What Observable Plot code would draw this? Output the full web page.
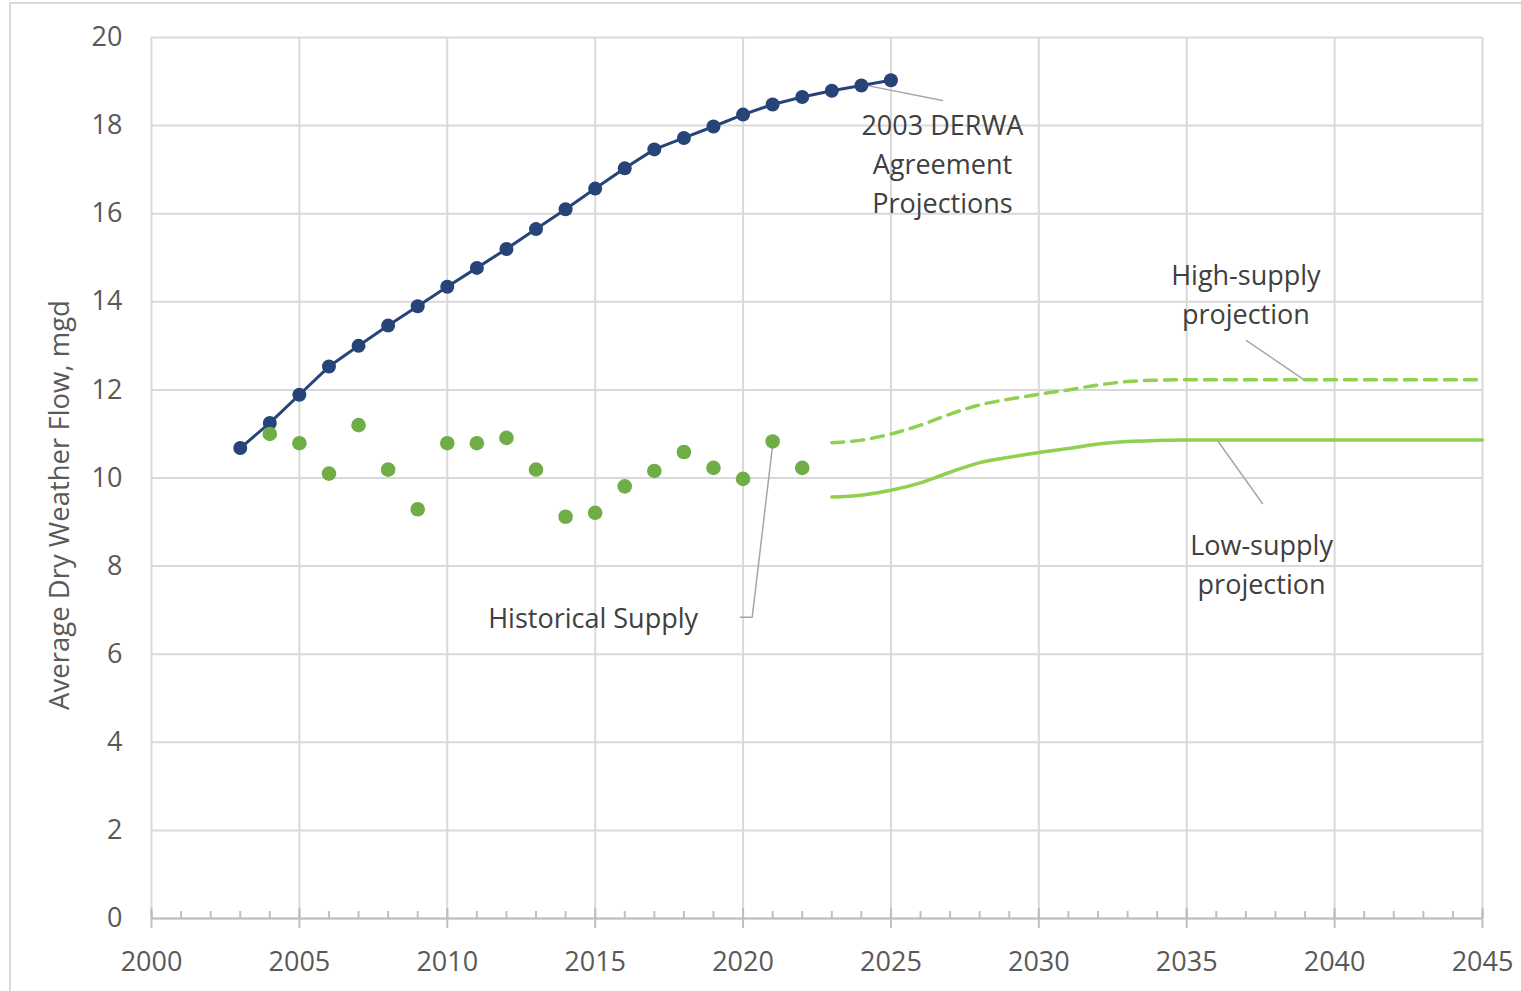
<!DOCTYPE html>
<html>
<head>
<meta charset="utf-8">
<script src="https://cdn.jsdelivr.net/npm/d3@7"></script>
<script src="https://cdn.jsdelivr.net/npm/@observablehq/plot@0.6"></script>
<style>
  html, body { margin: 0; padding: 0; background: #fff; overflow: hidden; }
  #frame { position: absolute; left: 9px; top: 2px; width: 1600px; height: 1100px; border: 2px solid #d9d9d9; box-sizing: border-box; }
  #chart { position: absolute; left: 0; top: 0; }
</style>
</head>
<body>
<div id="frame"></div>
<div id="chart"></div>
<script>
// 2003 DERWA Agreement Projections
const derwaYears = [2003,2004,2005,2006,2007,2008,2009,2010,2011,2012,2013,2014,2015,2016,2017,2018,2019,2020,2021,2022,2023,2024,2025];
const derwaValues = [10.68,11.25,11.89,12.53,13.00,13.46,13.90,14.34,14.77,15.20,15.65,16.10,16.57,17.03,17.46,17.72,17.98,18.25,18.48,18.65,18.79,18.91,19.03];

// Historical supply
const histYears = [2004,2005,2006,2007,2008,2009,2010,2011,2012,2013,2014,2015,2016,2017,2018,2019,2020,2021,2022];
const histValues = [11.00,10.79,10.10,11.20,10.19,9.29,10.79,10.79,10.91,10.19,9.12,9.21,9.81,10.16,10.59,10.23,9.98,10.83,10.23];

// Projections
const projYears = [2023,2024,2025,2026,2027,2028,2029,2030,2031,2032,2033,2034,2035,2036,2037,2038,2039,2040,2041,2042,2043,2044,2045];
const highValues = [10.80,10.86,11.00,11.20,11.45,11.66,11.79,11.90,12.00,12.11,12.19,12.22,12.23,12.23,12.23,12.23,12.23,12.23,12.23,12.23,12.23,12.23,12.23];
const lowValues  = [9.57,9.61,9.72,9.89,10.13,10.35,10.47,10.58,10.67,10.77,10.83,10.85,10.86,10.86,10.86,10.86,10.86,10.86,10.86,10.86,10.86,10.86,10.86];

// Axis ticks
const xMajorTicks = [2000,2005,2010,2015,2020,2025,2030,2035,2040,2045];
const xMinorTicks = d3.range(2000, 2046);
const yTicks = [0,2,4,6,8,10,12,14,16,18,20];

// Annotation labels (data coordinates)
const labelText = ["2003 DERWA\nAgreement\nProjections", "High-supply\nprojection", "Low-supply\nprojection", "Historical Supply"];
const labelX = [2026.74, 2037.0, 2037.53, 2014.93];
const labelY = [17.19, 14.22, 8.10, 6.88];

// Leader lines (data coordinates)
const leaders = [
  {id: "derwa", pts: [[2024.04, 18.93], [2026.74, 18.57]]},
  {id: "high", pts: [[2037.02, 13.12], [2039.01, 12.21]]},
  {id: "low", pts: [[2036.04, 10.85], [2037.56, 9.42]]},
  {id: "hist", pts: [[2021.0, 10.75], [2020.31, 6.84], [2019.91, 6.84]]}
];

const derwa = derwaYears.map((y, i) => ({year: y, value: derwaValues[i]}));
const hist = histYears.map((y, i) => ({year: y, value: histValues[i]}));
const high = projYears.map((y, i) => ({year: y, value: highValues[i]}));
const low = projYears.map((y, i) => ({year: y, value: lowValues[i]}));
const labels = labelText.map((t, i) => ({text: t, x: labelX[i], y: labelY[i]}));
const leaderPts = leaders.flatMap(l => l.pts.map(p => ({id: l.id, x: p[0], y: p[1]})));

const gridStyle = {stroke: "#d9d9d9", strokeOpacity: 1, strokeWidth: 2};
const axisStroke = "#bfbfbf";

const chart = Plot.plot({
  width: 1521,
  height: 991,
  marginLeft: 151,
  marginRight: 39,
  marginTop: 37,
  marginBottom: 73,
  style: {fontFamily: "'Open Sans', sans-serif", fontSize: "27px", color: "#595959", background: "transparent", overflow: "visible"},
  x: {domain: [2000, 2045]},
  y: {domain: [0, 20]},
  marks: [
    Plot.gridX(xMajorTicks, gridStyle),
    Plot.gridY(yTicks, gridStyle),
    Plot.ruleY([0], {stroke: axisStroke, strokeWidth: 2}),
    Plot.ruleX(xMinorTicks, {x: d => d, insetTop: 874, stroke: axisStroke, strokeWidth: 2}),
    Plot.ruleX(xMajorTicks, {x: d => d, insetTop: 871, insetBottom: -10, stroke: axisStroke, strokeWidth: 2}),
    Plot.axisX(xMajorTicks, {tickSize: 0, tickPadding: 33, tickFormat: "d", label: null, fontSize: 27, fill: "#595959"}),
    Plot.axisY(yTicks, {tickSize: 0, tickPadding: 29, label: null, fontSize: 27, fill: "#595959"}),
    Plot.text(["Average Dry Weather Flow, mgd"], {frameAnchor: "left", textAnchor: "middle", rotate: -90, dx: -91, dy: 27, fontSize: 27.5, fill: "#595959"}),

    // leader lines
    Plot.line(leaderPts, {x: "x", y: "y", z: "id", stroke: "#a6a6a6", strokeWidth: 1.5}),

    // projections
    Plot.line(high, {x: "year", y: "value", stroke: "#8fd14f", strokeWidth: 3.5, strokeDasharray: "12,8", curve: "monotone-x"}),
    Plot.line(low, {x: "year", y: "value", stroke: "#8fd14f", strokeWidth: 3.5, curve: "monotone-x"}),

    // DERWA
    Plot.line(derwa, {x: "year", y: "value", stroke: "#264478", strokeWidth: 3}),
    Plot.dot(derwa, {x: "year", y: "value", r: 7, fill: "#264478"}),

    // historical
    Plot.dot(hist, {x: "year", y: "value", r: 7.3, fill: "#70ad47"}),

    // labels
    Plot.text(labels, {x: "x", y: "y", text: "text", lineHeight: 1.44, fontSize: 27, fill: "#404040"})
  ]
});
document.getElementById("chart").appendChild(chart);
</script>
</body>
</html>
